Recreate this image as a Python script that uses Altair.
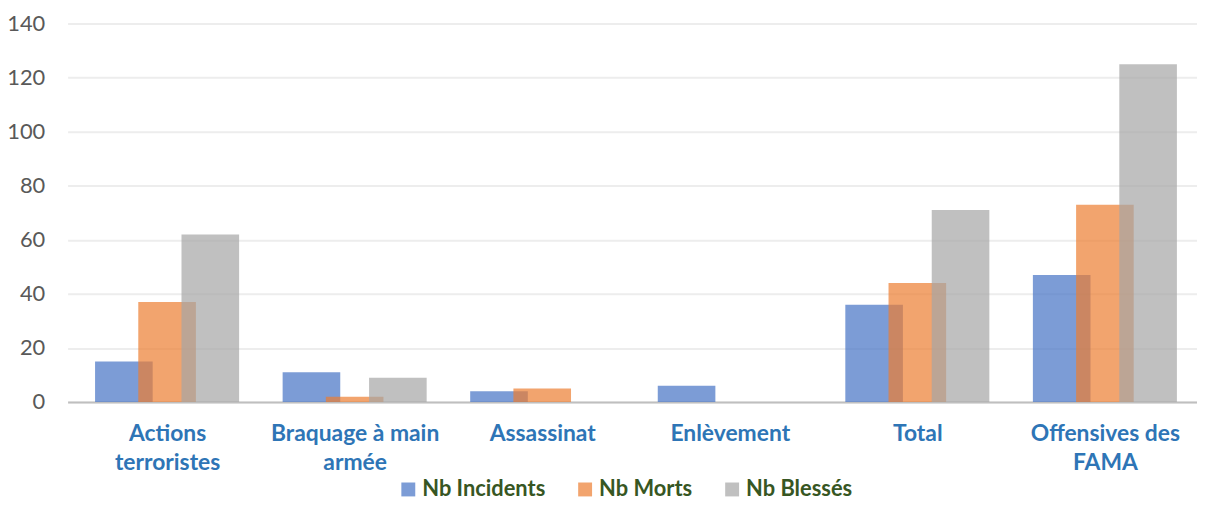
import altair as alt
import pandas as pd

categories = ["Actions terroristes", "Braquage à main armée", "Assassinat",
              "Enlèvement", "Total", "Offensives des FAMA"]
label_lines = [
    ["Actions", "terroristes"],
    ["Braquage à main", "armée"],
    ["Assassinat"],
    ["Enlèvement"],
    ["Total"],
    ["Offensives des", "FAMA"],
]
series = ["Nb Incidents", "Nb Morts", "Nb Blessés"]
incidents = [15, 11, 4, 6, 36, 47]
morts = [37, 2, 5, 0, 44, 73]
blesses = [62, 9, 0, 0, 71, 125]
colors = ["#4472C4", "#ED7D31", "#A5A5A5"]
y_ticks = [0, 20, 40, 60, 80, 100, 120, 140]

rows = []
for s, vals in zip(series, [incidents, morts, blesses]):
    for i, (c, v) in enumerate(zip(categories, vals)):
        rows.append({"idx": i, "cat": c, "series": s, "value": v})
df = pd.DataFrame(rows)

W = 1137
H = 381
bar_w = 58
offsets = [-43.5, 0, 43.5]
step = 190.5          # pixels per category
first_center = 96.0   # pixel of first category centre inside plot
x_lo = -first_center / step
x_hi = x_lo + W / step

expr_parts = []
for i, lines in enumerate(label_lines):
    arr = "[" + ",".join("'" + l + "'" for l in lines) + "]"
    expr_parts.append(f"datum.value == {i} ? {arr}")
label_expr = " : ".join(expr_parts) + " : ''"

FONT = "Lato"

x_enc = alt.X("idx:Q", title=None,
              scale=alt.Scale(domain=[x_lo, x_hi], nice=False, zero=False),
              axis=alt.Axis(values=list(range(len(categories))), labelExpr=label_expr,
                            labelAngle=0, labelFontSize=23,
                            labelFontWeight="bold", labelColor="#2E75B6",
                            labelFont=FONT, labelPadding=21, labelLineHeight=29,
                            ticks=False, domain=True, domainColor="#BFBFBF",
                            domainWidth=2, grid=False, labelBaseline="top",
                            labelFlush=False, labelOverlap=False))
y_enc = alt.Y("value:Q", title=None,
              scale=alt.Scale(domain=[0, 140], nice=False),
              axis=alt.Axis(values=y_ticks, labelFontSize=22, labelColor="#595959",
                            labelFont=FONT, labelPadding=23, ticks=False,
                            domain=False, gridColor="#EDEDED", gridWidth=2))
color_enc = alt.Color("series:N", sort=series,
                      scale=alt.Scale(domain=series, range=colors),
                      legend=alt.Legend(title=None, orient="none", direction="horizontal",
                                        legendX=332, legendY=458,
                                        labelFontSize=22, labelFontWeight="bold",
                                        labelColor="#375623", labelFont=FONT,
                                        symbolType="square", symbolSize=196,
                                        symbolOpacity=0.7, symbolStrokeWidth=0,
                                        columnPadding=29, labelOffset=3))

layers = []
for s, off in zip(series, offsets):
    layers.append(
        alt.Chart(df).transform_filter(alt.datum.series == s)
        .mark_bar(width=bar_w, xOffset=off, opacity=0.7)
        .encode(x=x_enc, y=y_enc, color=color_enc)
    )

chart = alt.layer(*layers).properties(
    width=W, height=H,
    padding={"left": 60, "top": 14, "right": 0, "bottom": 110},
    autosize=alt.AutoSizeParams(type="none"),
).configure_view(stroke=None)

chart.save("out.html", embed_options={"renderer": "svg", "actions": False})
